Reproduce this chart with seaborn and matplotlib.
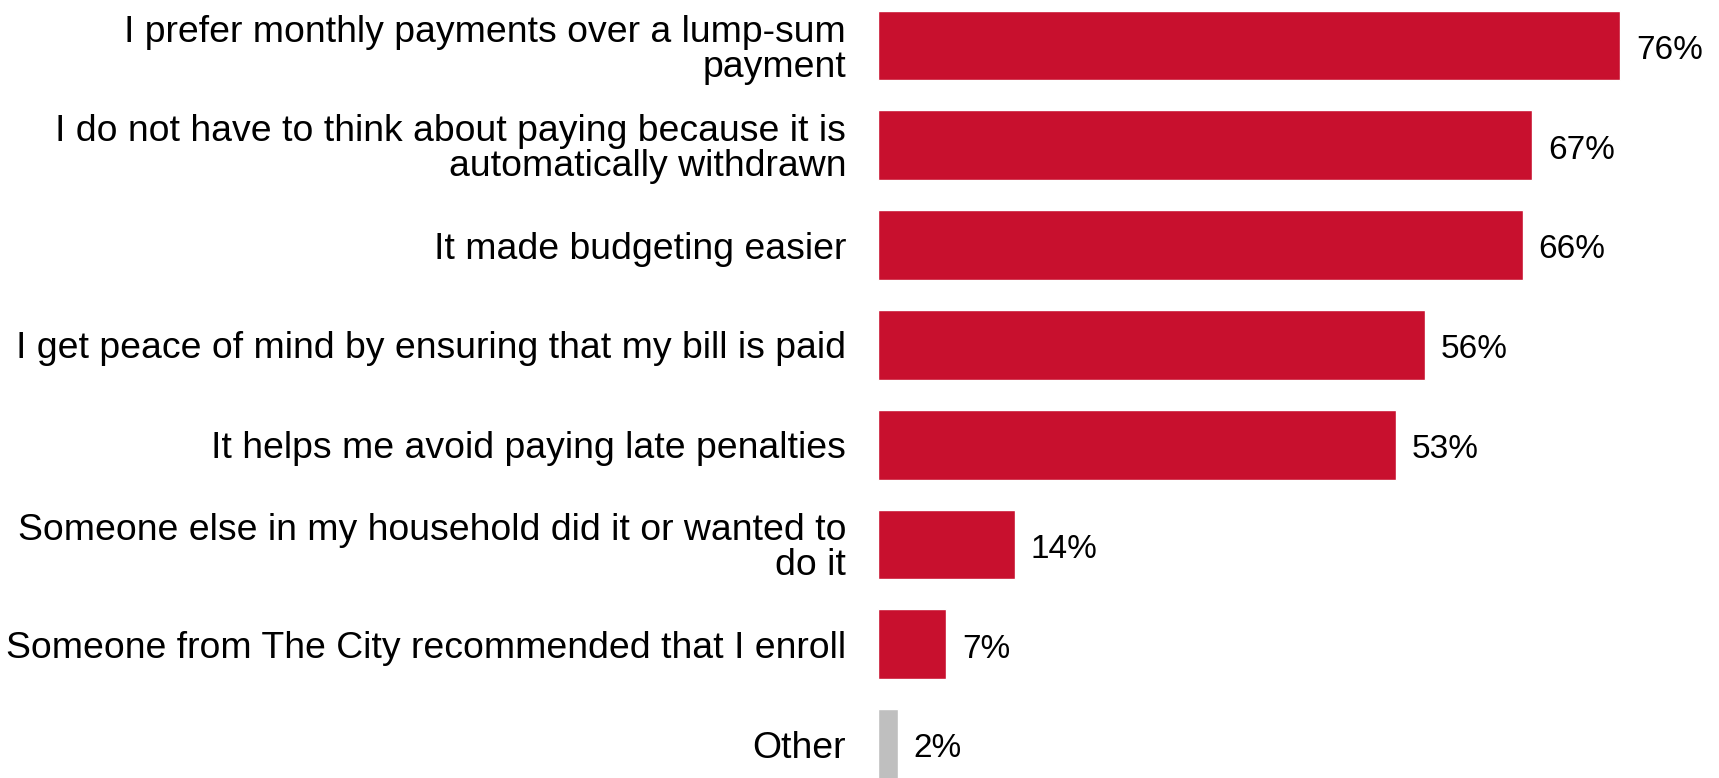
import matplotlib
matplotlib.use("Agg")
import matplotlib.pyplot as plt
import seaborn as sns
import pandas as pd

categories = [
    "I prefer monthly payments over a lump-sum\npayment",
    "I do not have to think about paying because it is\nautomatically withdrawn",
    "It made budgeting easier",
    "I get peace of mind by ensuring that my bill is paid",
    "It helps me avoid paying late penalties",
    "Someone else in my household did it or wanted to\ndo it",
    "Someone from The City recommended that I enroll",
    "Other",
]
values = [76, 67, 66, 56, 53, 14, 7, 2]
bar_colors = ["#C8102E"] * 7 + ["#BFBFBF"]

sns.set_theme(style="white")
plt.rcParams["font.family"] = ["Liberation Sans", "DejaVu Sans"]

df = pd.DataFrame({"reason": categories, "pct": values})

fig = plt.figure(figsize=(17.19, 7.78), dpi=100)
ax = fig.add_axes([878 / 1719, 0, (1719 - 878) / 1719, 1])

sns.barplot(data=df, y="reason", x="pct", hue="reason", palette=bar_colors,
            legend=False, width=0.70, saturation=1, ax=ax)

ax.set_xlim(0, 86.1)
ax.set_ylim(7.34, -0.456)
ax.set_xlabel("")
ax.set_ylabel("")
ax.set_xticks([])
ax.tick_params(axis="y", length=0, pad=23, labelsize=26.9, labelcolor="black")
for lbl in ax.get_yticklabels():
    lbl.set_linespacing(1.0)
for s in ax.spines.values():
    s.set_visible(False)

for i, v in enumerate(values):
    ax.annotate(f"{v}%", xy=(v, i), xytext=(11.5, -1), textcoords="offset points",
                ha="left", va="center_baseline", fontsize=24, color="black")

fig.savefig("out.png", dpi=100)
